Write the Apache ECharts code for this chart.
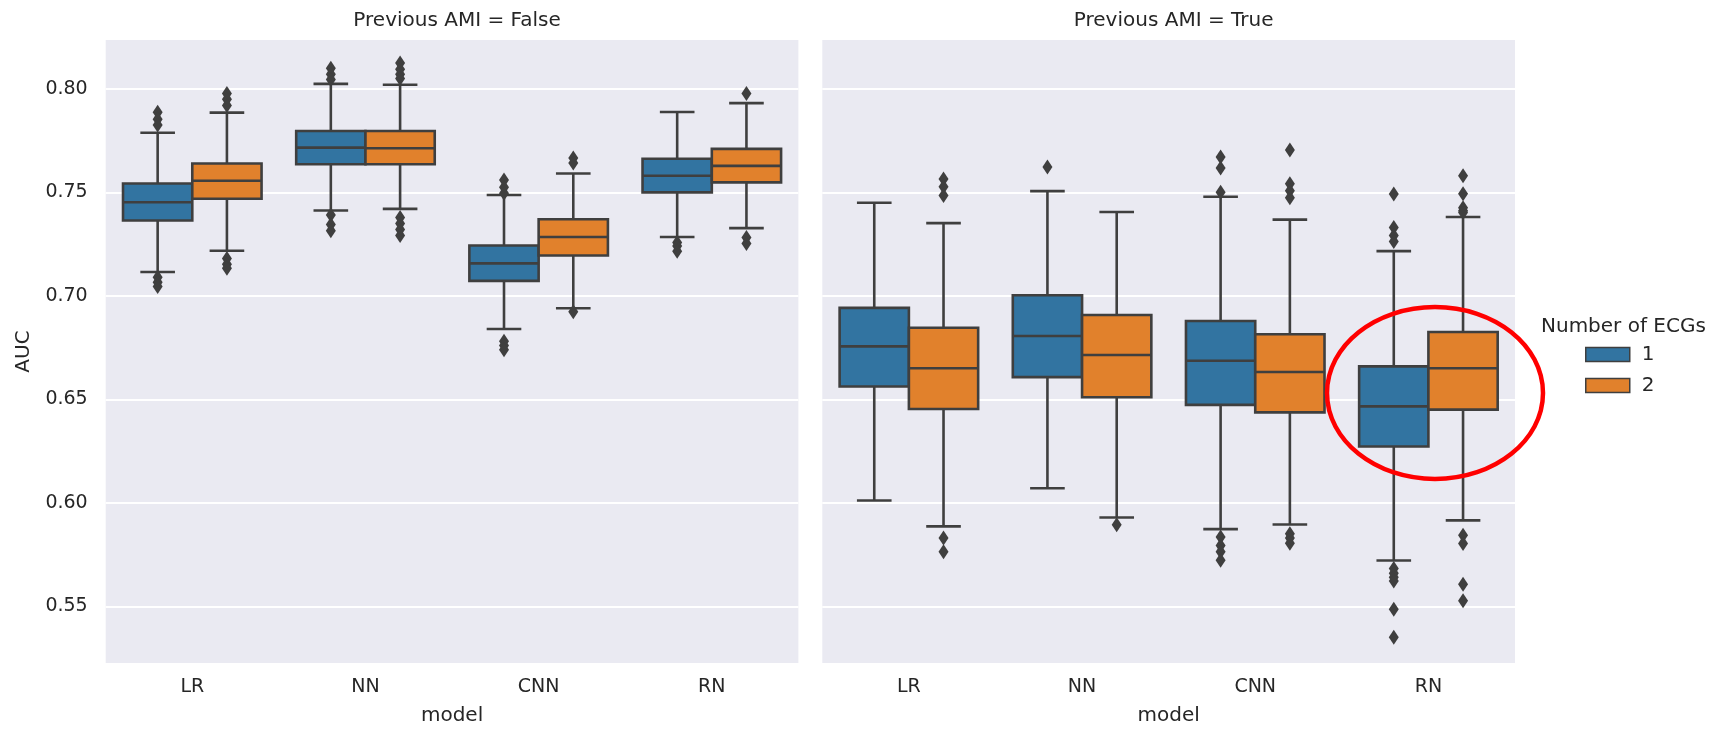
<!DOCTYPE html>
<html>
<head>
<meta charset="utf-8">
<script src="https://cdn.jsdelivr.net/npm/echarts@6/dist/echarts.min.js"></script>
<style>
  html, body { margin: 0; padding: 0; background: #ffffff; }
  #chart { width: 1713px; height: 731px; }
</style>
</head>
<body>
<div id="chart"></div>
<script>
// ---------------- data ----------------
const categories = ['LR', 'NN', 'CNN', 'RN'];
const panelTitles = ['Previous AMI = False', 'Previous AMI = True'];
const hueNames = ['1', '2'];
const yTicks = [0.55, 0.60, 0.65, 0.70, 0.75, 0.80];

// box stats per category: [lower whisker, q1, median, q3, upper whisker]
const falseEcg1 = [
  [0.7115, 0.7364, 0.7452, 0.7543, 0.7788],
  [0.7412, 0.7636, 0.7716, 0.7796, 0.8024],
  [0.6840, 0.7072, 0.7157, 0.7243, 0.7487],
  [0.7284, 0.7500, 0.7580, 0.7662, 0.7888]
];
const falseEcg2 = [
  [0.7218, 0.7469, 0.7556, 0.7639, 0.7885],
  [0.7420, 0.7636, 0.7713, 0.7796, 0.8020],
  [0.6940, 0.7195, 0.7284, 0.7370, 0.7591],
  [0.7327, 0.7548, 0.7628, 0.7710, 0.7931]
];
const trueEcg1 = [
  [0.6011, 0.6562, 0.6756, 0.6942, 0.7450],
  [0.6070, 0.6607, 0.6806, 0.7003, 0.7506],
  [0.5873, 0.6473, 0.6686, 0.6878, 0.7479],
  [0.5721, 0.6272, 0.6466, 0.6659, 0.7216]
];
const trueEcg2 = [
  [0.5886, 0.6453, 0.6650, 0.6846, 0.7351],
  [0.5929, 0.6510, 0.6714, 0.6907, 0.7405],
  [0.5895, 0.6437, 0.6632, 0.6814, 0.7368],
  [0.5915, 0.6450, 0.6650, 0.6825, 0.7381]
];

// outliers per category
const falseEcg1Out = [
  [0.7887, 0.7853, 0.7825, 0.7090, 0.7065, 0.7045],
  [0.8100, 0.8070, 0.8045, 0.7390, 0.7345, 0.7315],
  [0.7560, 0.7525, 0.7495, 0.6780, 0.6760, 0.6740],
  [0.7258, 0.7241, 0.7215]
];
const falseEcg2Out = [
  [0.7978, 0.7950, 0.7920, 0.7180, 0.7152, 0.7133],
  [0.8125, 0.8095, 0.8070, 0.8050, 0.7378, 0.7349, 0.7320, 0.7292],
  [0.7666, 0.7642, 0.6923],
  [0.7977, 0.7282, 0.7253]
];
const trueEcg1Out = [
  [],
  [0.7623],
  [0.7671, 0.7618, 0.7500, 0.5835, 0.5794, 0.5763, 0.5722],
  [0.7492, 0.7330, 0.7291, 0.7263, 0.5683, 0.5660, 0.5640, 0.5622, 0.5486, 0.5351]
];
const trueEcg2Out = [
  [0.7565, 0.7527, 0.7485, 0.5830, 0.5763],
  [0.5894],
  [0.7705, 0.7541, 0.7508, 0.7474, 0.5850, 0.5830, 0.5805],
  [0.7580, 0.7493, 0.7426, 0.7411, 0.7402, 0.5843, 0.5803, 0.5607, 0.5527]
];

const panelBoxes = [[falseEcg1, falseEcg2], [trueEcg1, trueEcg2]];
const panelOutliers = [[falseEcg1Out, falseEcg2Out], [trueEcg1Out, trueEcg2Out]];

// ---------------- style ----------------
const COLORS = ['#3274a1', '#e1812c'];
const GRAY = '#3f3f3f';
const TEXT = '#262626';
const FONT = 'DejaVu Sans';
const Y_MIN = 0.5226, Y_MAX = 0.8236;
const GRID_LEFT = [105.7, 822.3];
const GRID_TOP = 40, GRID_W = 692.7, GRID_H = 626.7;
const LW = 2.6;

function boxRenderer(hue) {
  return function (params, api) {
    const cat = api.value(0);
    const band = api.size([1, 0])[0];
    const w = band * 0.4;
    const cx = api.coord([cat, 0.6])[0] + (hue - 0.5) * w;
    const yLo = api.coord([cat, api.value(1)])[1];
    const yQ1 = api.coord([cat, api.value(2)])[1];
    const yMed = api.coord([cat, api.value(3)])[1];
    const yQ3 = api.coord([cat, api.value(4)])[1];
    const yHi = api.coord([cat, api.value(5)])[1];
    const ls = { stroke: GRAY, lineWidth: LW, fill: null };
    return {
      type: 'group',
      children: [
        { type: 'line', shape: { x1: cx, y1: yQ1, x2: cx, y2: yLo }, style: ls },
        { type: 'line', shape: { x1: cx, y1: yQ3, x2: cx, y2: yHi }, style: ls },
        { type: 'line', shape: { x1: cx - w / 4, y1: yLo, x2: cx + w / 4, y2: yLo }, style: ls },
        { type: 'line', shape: { x1: cx - w / 4, y1: yHi, x2: cx + w / 4, y2: yHi }, style: ls },
        { type: 'rect', shape: { x: cx - w / 2, y: yQ3, width: w, height: yQ1 - yQ3 },
          style: { fill: COLORS[hue], stroke: GRAY, lineWidth: LW } },
        { type: 'line', shape: { x1: cx - w / 2, y1: yMed, x2: cx + w / 2, y2: yMed }, style: ls }
      ]
    };
  };
}

function outlierRenderer(hue) {
  return function (params, api) {
    const cat = api.value(0);
    const band = api.size([1, 0])[0];
    const w = band * 0.4;
    const pt = api.coord([cat, api.value(1)]);
    const cx = pt[0] + (hue - 0.5) * w;
    const cy = pt[1];
    const hw = 5, hh = 7.5;
    return {
      type: 'polygon',
      shape: { points: [[cx, cy - hh], [cx + hw, cy], [cx, cy + hh], [cx - hw, cy]] },
      style: { fill: GRAY, stroke: null }
    };
  };
}

const grids = [], xAxes = [], yAxes = [], series = [], titles = [];
for (let p = 0; p < 2; p++) {
  grids.push({
    left: GRID_LEFT[p], top: GRID_TOP, width: GRID_W, height: GRID_H,
    show: true, backgroundColor: '#eaeaf2', borderWidth: 0
  });
  xAxes.push({
    type: 'category', gridIndex: p, data: categories,
    axisLine: { show: false }, axisTick: { show: false }, splitLine: { show: false },
    axisLabel: { fontSize: 19, color: TEXT, fontFamily: FONT, margin: 15 },
    name: 'model', nameLocation: 'middle', nameGap: 43,
    nameTextStyle: { fontSize: 20, color: TEXT, fontFamily: FONT }
  });
  yAxes.push({
    type: 'value', gridIndex: p, min: Y_MIN, max: Y_MAX,
    axisLine: { show: false }, axisTick: { show: false }, splitLine: { show: false },
    axisLabel: {
      show: p === 0, fontSize: 19, color: TEXT, fontFamily: FONT, margin: 18,
      customValues: yTicks, formatter: v => v.toFixed(2)
    },
    name: p === 0 ? 'AUC' : '', nameLocation: 'middle', nameGap: 72,
    nameTextStyle: { fontSize: 20, color: TEXT, fontFamily: FONT }
  });
  titles.push({
    text: panelTitles[p], left: GRID_LEFT[p] + GRID_W / 2, textAlign: 'center', top: 6,
    textStyle: { fontSize: 20, fontWeight: 'normal', color: TEXT, fontFamily: FONT }
  });
  // gridlines (drawn beneath the boxes)
  series.push({
    type: 'line', xAxisIndex: p, yAxisIndex: p, data: [], z: 0, silent: true,
    markLine: {
      z: 0, silent: true, symbol: 'none', animation: false,
      label: { show: false },
      lineStyle: { color: '#ffffff', width: 1.8, type: 'solid' },
      data: yTicks.map(v => ({ yAxis: v }))
    }
  });
  for (let h = 0; h < 2; h++) {
    const stats = panelBoxes[p][h];
    series.push({
      type: 'custom', name: hueNames[h], xAxisIndex: p, yAxisIndex: p, z: 3,
      itemStyle: { color: COLORS[h] },
      renderItem: boxRenderer(h),
      encode: { x: 0, y: [1, 2, 3, 4, 5] },
      data: stats.map((s, i) => [i].concat(s))
    });
    const outs = [];
    panelOutliers[p][h].forEach((arr, i) => arr.forEach(v => outs.push([i, v])));
    series.push({
      type: 'custom', name: hueNames[h], xAxisIndex: p, yAxisIndex: p, z: 4,
      itemStyle: { color: COLORS[h] },
      renderItem: outlierRenderer(h),
      encode: { x: 0, y: 1 },
      data: outs
    });
  }
}
titles.push({
  text: 'Number of ECGs', left: 1536, top: 312,
  textStyle: { fontSize: 20, fontWeight: 'normal', color: TEXT, fontFamily: FONT }
});

const chart = echarts.init(document.getElementById('chart'), null, { renderer: 'canvas' });
chart.setOption({
  animation: false,
  backgroundColor: '#ffffff',
  textStyle: { fontFamily: FONT },
  title: titles,
  grid: grids,
  xAxis: xAxes,
  yAxis: yAxes,
  legend: {
    data: hueNames, orient: 'vertical', left: 1580, top: 339.5,
    itemWidth: 44, itemHeight: 14, itemGap: 11, icon: 'rect',
    itemStyle: { borderColor: GRAY, borderWidth: 1.5 },
    textStyle: { fontSize: 20, color: TEXT, fontFamily: FONT, padding: [0, 0, 0, 7] },
    selectedMode: false
  },
  graphic: [{
    type: 'ellipse', z: 100,
    shape: { cx: 1435, cy: 393, rx: 108, ry: 86 },
    style: { fill: null, stroke: '#ff0000', lineWidth: 4.5 }
  }],
  series: series
});
</script>
</body>
</html>
